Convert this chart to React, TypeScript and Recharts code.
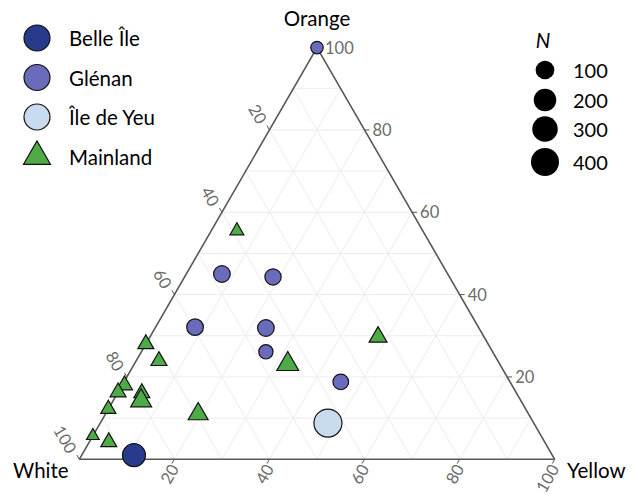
import React from 'react';
import { ScatterChart, Scatter, XAxis, YAxis, ZAxis, ReferenceLine } from 'recharts';

// colour composition (%) of each sample, n = sample size
const belleIle = [{ white: 88, yellow: 11, orange: 1, n: 214 }];

const glenan = [
    { white: 0, yellow: 0, orange: 100, n: 11 },
    { white: 47.5, yellow: 7.5, orange: 45, n: 62 },
    { white: 37.1, yellow: 18.6, orange: 44.3, n: 55 },
    { white: 59.6, yellow: 8.3, orange: 32.1, n: 62 },
    { white: 44.8, yellow: 23.3, orange: 31.9, n: 62 },
    { white: 47.7, yellow: 26.2, orange: 26.1, n: 28 },
    { white: 35.6, yellow: 45.6, orange: 18.8, n: 46 },
];

const ileDeYeu = [{ white: 43.3, yellow: 47.9, orange: 8.8, n: 405 }];

const mainland = [
    { white: 39.1, yellow: 5.4, orange: 55.5, n: 1 },
    { white: 22.3, yellow: 48, orange: 29.7, n: 18 },
    { white: 72, yellow: 0, orange: 28, n: 7 },
    { white: 71.3, yellow: 4.8, orange: 23.9, n: 7 },
    { white: 44.6, yellow: 32.3, orange: 23.1, n: 55 },
    { white: 81.5, yellow: 0.5, orange: 18, n: 7 },
    { white: 83.7, yellow: 0, orange: 16.3, n: 7 },
    { white: 78.8, yellow: 5.1, orange: 16.1, n: 7 },
    { white: 79.9, yellow: 5.9, orange: 14.2, n: 44 },
    { white: 87.8, yellow: 0, orange: 12.2, n: 4 },
    { white: 69.5, yellow: 19.5, orange: 11, n: 34 },
    { white: 94.3, yellow: 0, orange: 5.7, n: 0 },
    { white: 91.7, yellow: 4.1, orange: 4.2, n: 7 },
];

const axisTicks = [20, 40, 60, 80, 100];
const gridSteps = [10, 20, 30, 40, 50, 60, 70, 80, 90];
const sizeBreaks = [100, 200, 300, 400];

const groups = [
    { name: 'Belle Île', fill: '#283a8c', data: belleIle, shape: 'circle' },
    { name: 'Glénan', fill: '#6a6bbb', data: glenan, shape: 'circle' },
    { name: 'Île de Yeu', fill: '#c9dbef', data: ileDeYeu, shape: 'circle' },
    { name: 'Mainland', fill: '#4fab48', data: mainland, shape: 'triangle' },
];

const H3 = Math.sqrt(3) / 2;
const toXY = (yellow: number, orange: number) => ({ x: yellow + orange / 2, y: orange * H3 });
const withXY = (rows: any[]) => rows.map((r) => ({ ...r, ...toXY(r.yellow, r.orange) }));

// diameter of a point for sample size n (same as ZAxis below)
const diam = (n: number) => 9.4 + 18.6 * Math.sqrt(n / 400);

const FONT = 'Lato, "Open Sans", sans-serif';
const TICK_COL = '#6b6b6b';
const EDGE = '#575757';

const circleShape = (fill: string) => (props: any) => {
    const { cx, cy, size } = props;
    return <circle cx={cx} cy={cy} r={size / 2} fill={fill} stroke="#111" strokeWidth={1.2} />;
};

const triangleShape = (fill: string) => (props: any) => {
    const { cx, cy, size } = props;
    const s = size * 1.3468;
    const h = s * H3;
    const pts = `${cx},${cy - (2 * h) / 3} ${cx - s / 2},${cy + h / 3} ${cx + s / 2},${cy + h / 3}`;
    return <polygon points={pts} fill={fill} stroke="#111" strokeWidth={1.2} strokeLinejoin="miter" />;
};

// tick label series, one per ternary axis
const leftTicks = axisTicks.map((v) => ({ label: v, ...toXY(0, 100 - v) }));
const bottomTicks = axisTicks.map((v) => ({ label: v, ...toXY(v, 0) }));
const rightTicks = axisTicks.map((v) => ({ label: v, ...toXY(100 - v, v) }));

const tickStyle = { fontFamily: FONT, fontSize: 16.5, fill: TICK_COL };

const leftTick = (p: any) => (
    <g>
        <line x1={p.cx} y1={p.cy} x2={p.cx - 2.5} y2={p.cy - 4.3} stroke={EDGE} strokeWidth={1} />
        <text x={p.cx - 7} y={p.cy - 7.5} textAnchor="end" dominantBaseline="central" transform={`rotate(60 ${p.cx - 7} ${p.cy - 7.5})`} style={tickStyle}>
            {p.payload.label}
        </text>
    </g>
);

const bottomTick = (p: any) => (
    <g>
        <line x1={p.cx} y1={p.cy} x2={p.cx - 2.5} y2={p.cy + 4.3} stroke={EDGE} strokeWidth={1} />
        <text x={p.cx} y={p.cy + 6.5} textAnchor="end" dominantBaseline="central" transform={`rotate(-60 ${p.cx} ${p.cy + 6.5})`} style={tickStyle}>
            {p.payload.label}
        </text>
    </g>
);

const rightTick = (p: any) => (
    <g>
        <line x1={p.cx} y1={p.cy} x2={p.cx + 5} y2={p.cy} stroke={EDGE} strokeWidth={1} />
        <text x={p.cx + 8} y={p.cy} textAnchor="start" dominantBaseline="central" style={tickStyle}>
            {p.payload.label}
        </text>
    </g>
);

// grid lines at every 10 %
const gridSegments = gridSteps.flatMap((v) => [
    [toXY(0, v), toXY(100 - v, v)],
    [toXY(v, 0), toXY(v, 100 - v)],
    [toXY(100 - v, 0), toXY(0, 100 - v)],
]);
const edges = [
    [toXY(0, 0), toXY(100, 0)],
    [toXY(100, 0), toXY(0, 100)],
    [toXY(0, 100), toXY(0, 0)],
];

const labelStyle: React.CSSProperties = { fontFamily: FONT, fontSize: 20.5, fill: '#000' };
const numStyle: React.CSSProperties = { fontFamily: FONT, fontSize: 20, fill: '#000' };

export default function App() {
    return (
        <div style={{ position: 'absolute', left: 0, top: 0, width: 637, height: 495, background: '#fff' }}>
            <ScatterChart width={637} height={495} margin={{ top: 0, right: 0, bottom: 0, left: 0 }}>
                <XAxis type="number" dataKey="x" domain={[-16.68, 117.31]} allowDataOverflow hide />
                <YAxis type="number" dataKey="y" domain={[-7.51, 96.61]} allowDataOverflow hide />
                <ZAxis type="number" dataKey="n" domain={[0, 400]} range={[9.4, 28]} scale="sqrt" />
                {gridSegments.map((seg, i) => (
                    <ReferenceLine key={'g' + i} segment={seg} stroke="#ececec" strokeWidth={1} ifOverflow="visible" />
                ))}
                {edges.map((seg, i) => (
                    <ReferenceLine key={'e' + i} segment={seg} stroke={EDGE} strokeWidth={1.6} ifOverflow="visible" />
                ))}
                <Scatter data={leftTicks} shape={leftTick} isAnimationActive={false} />
                <Scatter data={bottomTicks} shape={bottomTick} isAnimationActive={false} />
                <Scatter data={rightTicks} shape={rightTick} isAnimationActive={false} />
                {groups.map((g) => (
                    <Scatter
                        key={g.name}
                        name={g.name}
                        data={withXY(g.data)}
                        shape={g.shape === 'circle' ? circleShape(g.fill) : triangleShape(g.fill)}
                        isAnimationActive={false}
                    />
                ))}
            </ScatterChart>
            <svg width={637} height={495} style={{ position: 'absolute', left: 0, top: 0, pointerEvents: 'none' }}>
                <text x={317} y={18} textAnchor="middle" dominantBaseline="central" style={labelStyle}>Orange</text>
                <text x={13} y={470} dominantBaseline="central" style={labelStyle}>White</text>
                <text x={567} y={470} dominantBaseline="central" style={labelStyle}>Yellow</text>
                {groups.map((g, i) => {
                    const cy = 38 + i * 39.5;
                    const s = 27;
                    const h = s * H3;
                    return (
                        <g key={g.name}>
                            {g.shape === 'circle' ? (
                                <circle cx={37} cy={cy} r={13} fill={g.fill} stroke="#111" strokeWidth={1.2} />
                            ) : (
                                <polygon
                                    points={`37,${cy - (2 * h) / 3} ${37 - s / 2},${cy + h / 3} ${37 + s / 2},${cy + h / 3}`}
                                    fill={g.fill}
                                    stroke="#111"
                                    strokeWidth={1.2}
                                />
                            )}
                            <text x={69} y={cy} dominantBaseline="central" style={labelStyle}>{g.name}</text>
                        </g>
                    );
                })}
                <text x={543} y={40} textAnchor="middle" dominantBaseline="central" style={{ ...labelStyle, fontStyle: 'italic' }}>N</text>
                {sizeBreaks.map((n, i) => {
                    const cy = [70, 100, 129, 162][i];
                    return (
                        <g key={n}>
                            <circle cx={545} cy={cy} r={diam(n) / 2} fill="#000" />
                            <text x={573} y={cy} dominantBaseline="central" style={numStyle}>{n}</text>
                        </g>
                    );
                })}
            </svg>
        </div>
    );
}
